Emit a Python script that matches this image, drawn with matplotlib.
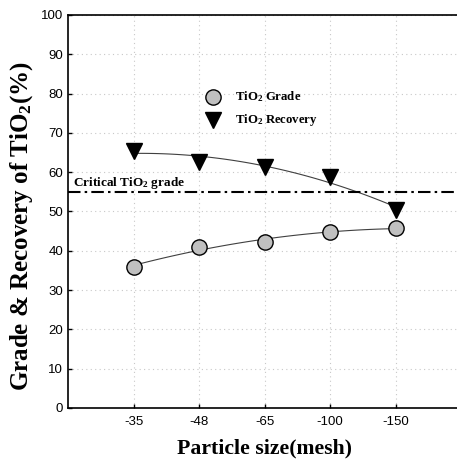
import matplotlib
matplotlib.use("Agg")
import matplotlib.pyplot as plt
import numpy as np

# particle size classes and measured TiO2 values (%)
mesh_labels = ["-35", "-48", "-65", "-100", "-150"]
grade = [36.0, 40.9, 42.3, 44.9, 45.7]
recovery = [65.5, 62.7, 61.4, 58.9, 50.4]
critical_grade = 55.0

# bold Times-like subscripts
plt.rcParams["mathtext.fontset"] = "custom"
plt.rcParams["mathtext.rm"] = "Liberation Serif:bold"
plt.rcParams["mathtext.bf"] = "Liberation Serif:bold"
plt.rcParams["mathtext.it"] = "Liberation Serif:bold"

x = np.arange(1, len(mesh_labels) + 1)

fig = plt.figure(figsize=(4.57, 4.61), dpi=100)
ax = fig.add_axes([0.1488, 0.115, 0.86, 0.8525])

# smooth trend lines through each series
xs = np.linspace(1, 5, 100)
fit_g = np.polyfit(x, grade, 2)
fit_r = np.polyfit(x, recovery, 2)
ax.plot(xs, np.polyval(fit_g, xs), color="#404040", lw=0.8, zorder=2)
ax.plot(xs, np.polyval(fit_r, xs), color="#404040", lw=0.8, zorder=2)

ax.plot(x, grade, "o", ms=11, mfc="#c0c0c0", mec="black", mew=1.0,
        ls="none", zorder=3)
ax.plot(x, recovery, "v", ms=11, mfc="black", mec="black",
        ls="none", zorder=3)

ax.axhline(critical_grade, color="black", lw=1.5,
           linestyle=(0, (6, 2, 1.2, 2)), zorder=2)
ax.text(0.08, critical_grade + 1.6, "Critical TiO$_\\mathbf{2}$ grade",
        family="Liberation Serif", fontweight="bold", fontsize=9.5)

# legend drawn by hand inside the plot
ax.plot(2.21, 79.2, "o", ms=11, mfc="#c0c0c0", mec="black", mew=1.0)
ax.plot(2.21, 73.2, "v", ms=11, mfc="black", mec="black")
ax.text(2.55, 79.2, "TiO$_\\mathbf{2}$ Grade", family="Liberation Serif",
        fontweight="bold", fontsize=9.2, va="center")
ax.text(2.55, 73.2, "TiO$_\\mathbf{2}$ Recovery", family="Liberation Serif",
        fontweight="bold", fontsize=9.2, va="center")

ax.set_xlim(0, 6)
ax.set_ylim(0, 100)
ax.set_xticks(x)
ax.set_xticklabels(mesh_labels)
ax.set_yticks(np.arange(0, 101, 10))

for lbl in ax.get_xticklabels() + ax.get_yticklabels():
    lbl.set_family("Liberation Sans")
    lbl.set_fontsize(9.5)
ax.tick_params(direction="in", length=3, width=1, pad=3.5)
ax.tick_params(axis="x", pad=6)

ax.grid(True, linestyle=(0, (1, 3)), color="#c8c8c8", lw=0.8)
ax.set_axisbelow(True)
for s in ax.spines.values():
    s.set_linewidth(1.2)

ax.set_xlabel("Particle size(mesh)", family="Liberation Serif",
              fontweight="bold", fontsize=15.7, labelpad=7)
ax.set_ylabel("Grade & Recovery of TiO$_\\mathbf{2}$(%)", family="Liberation Serif",
              fontweight="bold", fontsize=18)
ax.yaxis.set_label_coords(-0.085, 0.464)

fig.savefig("out.png", dpi=100)
